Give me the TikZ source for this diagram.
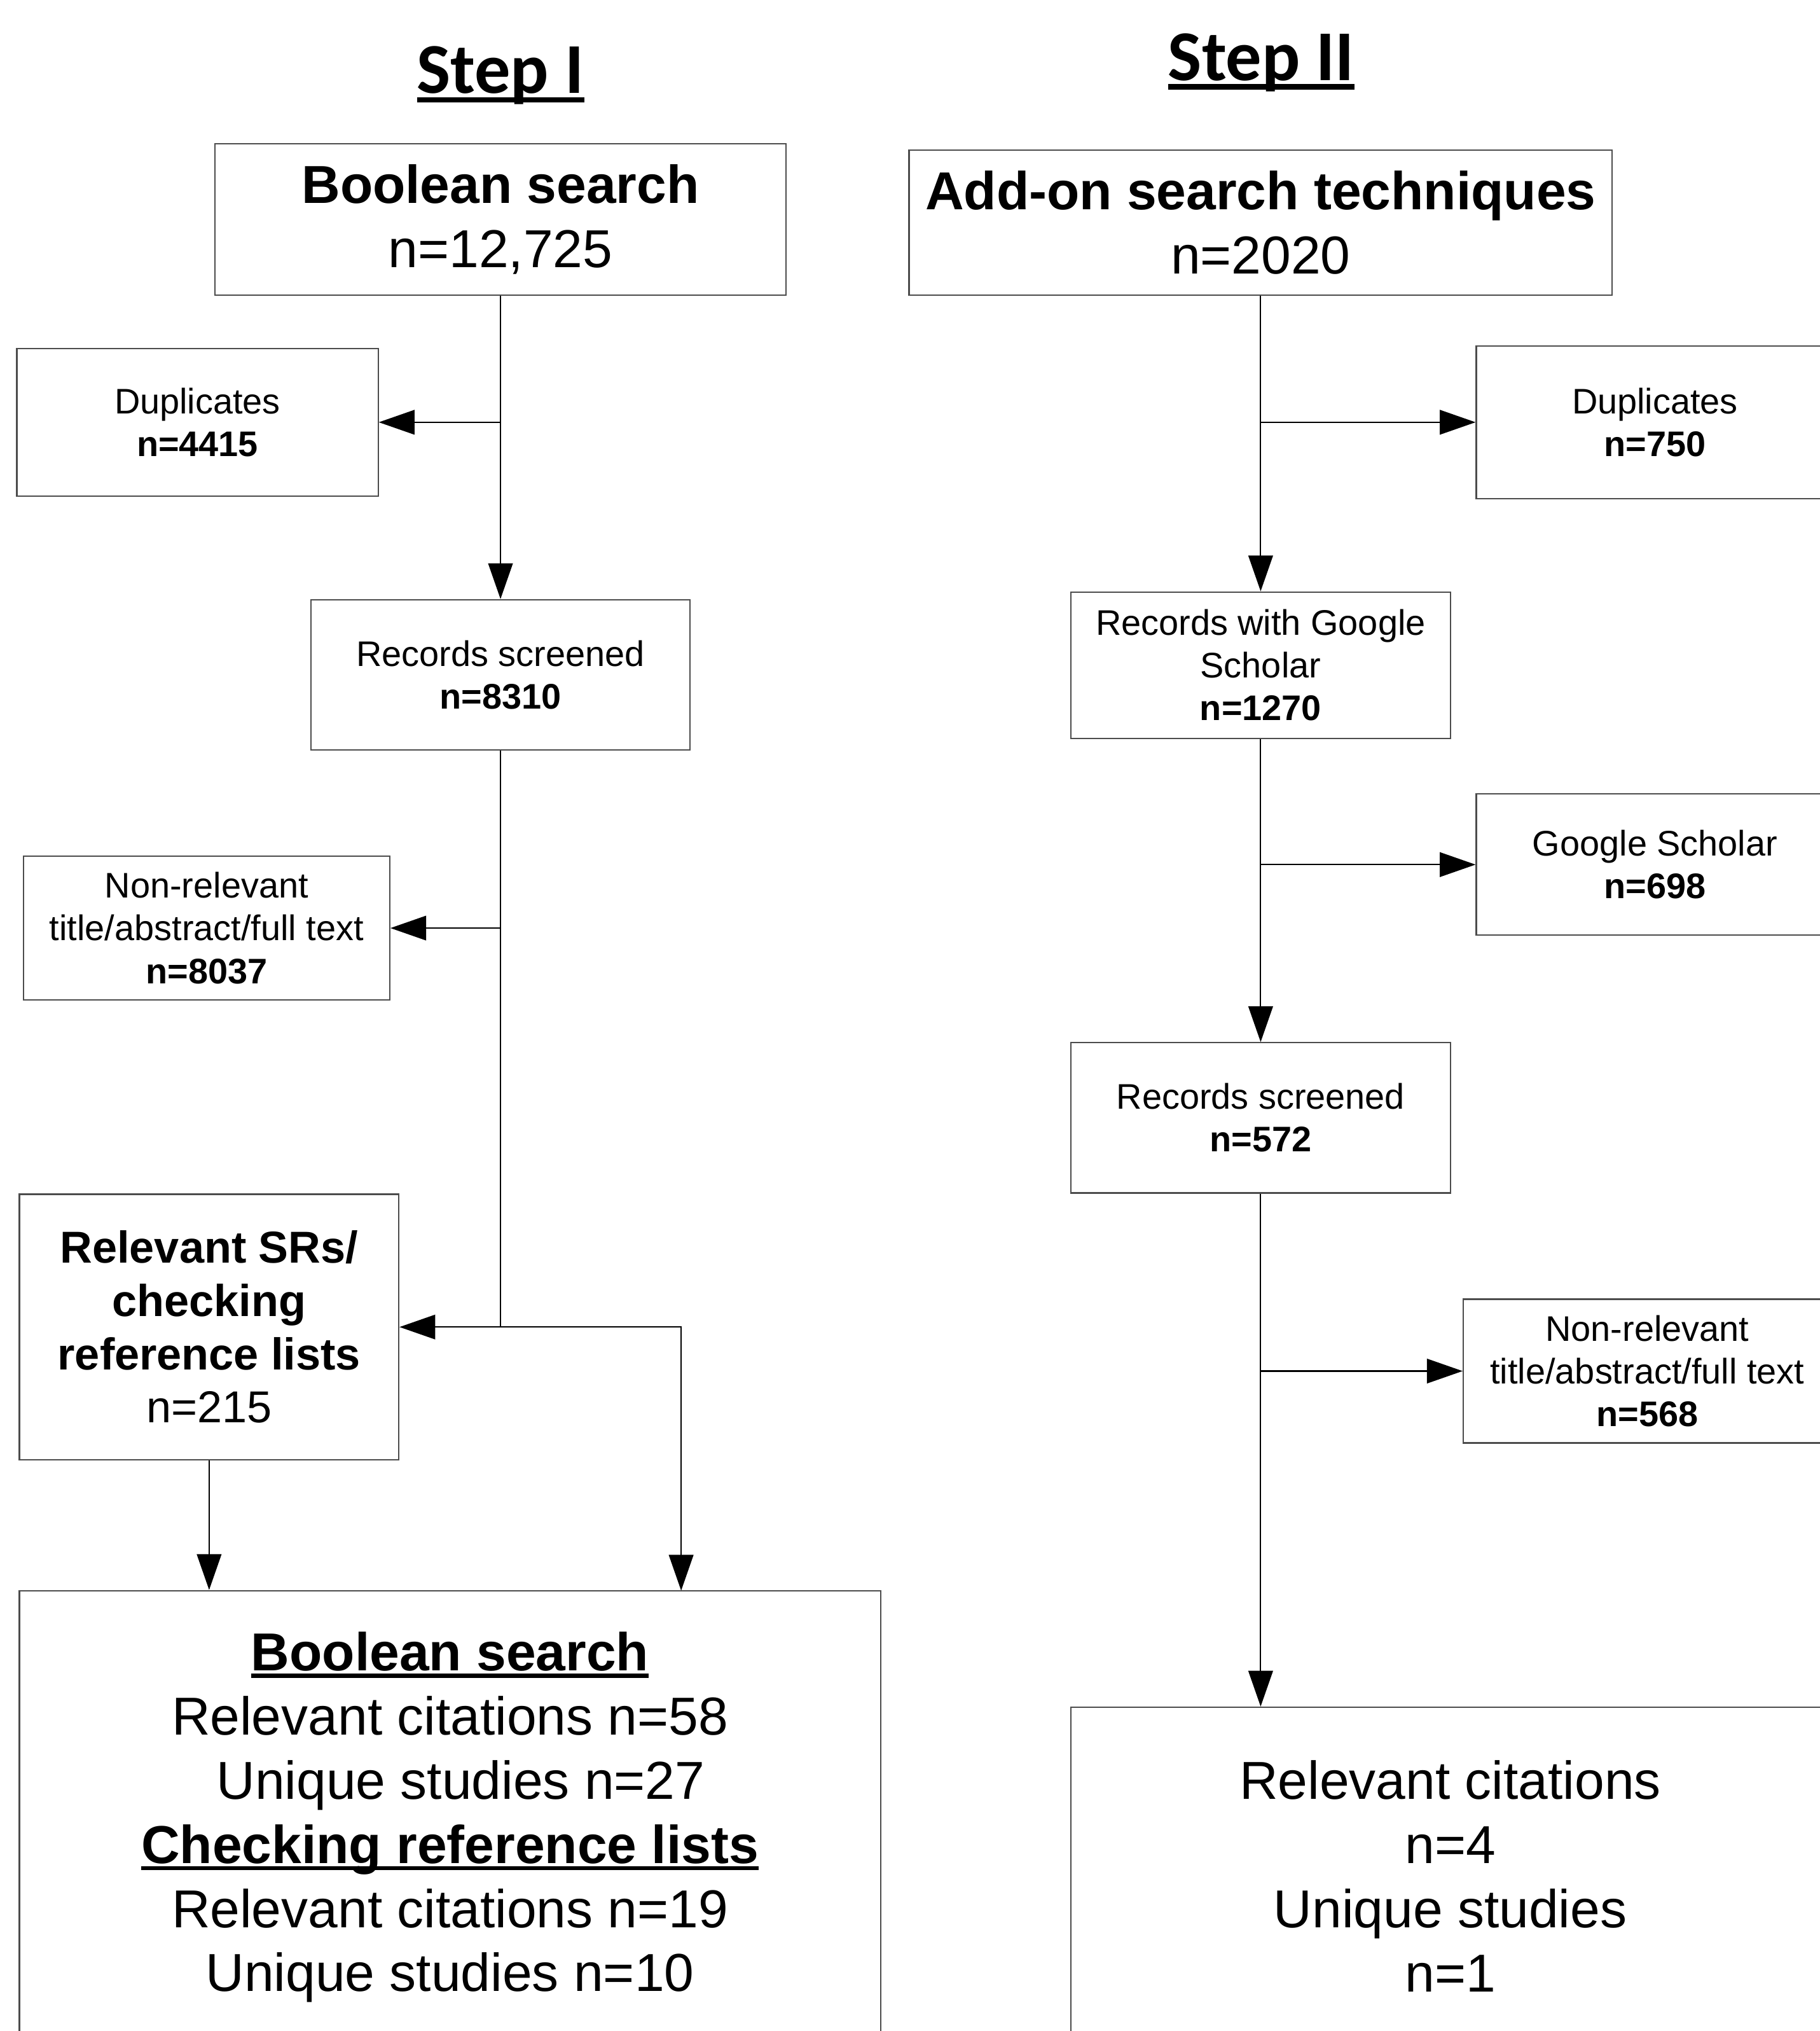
\documentclass[tikz,border=0pt]{standalone}
\usepackage{fontspec}
\setmainfont{Liberation Sans}
\newfontfamily\stepfont{Carlito}
\usetikzlibrary{arrows.meta}
\newcommand\pxu{0.2037mm}
\newsavebox\ulbox
\newcommand\ultext[1]{\sbox\ulbox{#1}\rlap{\usebox\ulbox}\rule[-0.13em]{\wd\ulbox}{0.075em}}
\tikzset{
	box/.style 2 args={draw=black!70,line width=0.6pt,minimum width=#1*\pxu,minimum height=#2*\pxu,align=center,inner sep=0pt},
	small/.style={font=\fontsize{15.9pt}{19.1pt}\selectfont},
	mid/.style={font=\fontsize{20pt}{23.8pt}\selectfont},
	big/.style={font=\fontsize{23.9pt}{28.7pt}\selectfont},
	steptitle/.style={font=\stepfont\bfseries\fontsize{32pt}{38pt}\selectfont,anchor=base,inner sep=0pt},
	flow/.style={->,line width=0.6pt}
}
\begin{document}
\begin{tikzpicture}[x=\pxu,y=-\pxu,>={Triangle[length=16pt,width=11pt]}]
	\useasboundingbox (0,0) rectangle (1405,1568);
	\node[steptitle] (stepI) at (386.5,72) {\ultext{Step I}};
	\node[steptitle] (stepII) at (974,62) {\ultext{Step II}};
	% step I
	\node[box={441}{117},big] (boolA) at (386.5,169.5) {\textbf{Boolean search}\\n=12,725};
	\node[box={279}{114},small] (dupL) at (152.5,326) {Duplicates\\\textbf{n=4415}};
	\node[box={293}{116},small] (scrL) at (386.5,521) {Records screened\\\textbf{n=8310}};
	\node[box={283}{111},small] (nonrelL) at (159.5,716.5) {Non-relevant\\title/abstract/full text\\\textbf{n=8037}};
	\node[box={293}{205},mid] (srs) at (161.5,1024.5) {\textbf{Relevant SRs/}\\\textbf{checking}\\\textbf{reference lists}\\n=215};
	\node[box={665}{350},big] (finL) at (347.5,1403) {\ultext{\textbf{Boolean search}}\\Relevant citations n=58\\\hspace*{0.4em}Unique studies n=27\\\ultext{\textbf{Checking reference lists}}\\Relevant citations n=19\\Unique studies n=10};
	\coordinate (jL) at (scrL.south |- srs.east);
	\coordinate (inL) at (526,1228);
	\draw[flow] (boolA) -- (scrL);
	\draw[flow] (boolA.south |- dupL) -- (dupL.east);
	\draw (scrL) -- (jL);
	\draw[flow] (scrL.south |- nonrelL) -- (nonrelL.east);
	\draw[flow] (jL) -- (srs.east);
	\draw[flow] (jL) -| (inL);
	\draw[flow] (srs) -- (srs.south |- finL.north);
	% step II
	\node[box={543}{112},big] (addon) at (973.5,172) {\textbf{Add-on search techniques}\\n=2020};
	\node[box={276}{118},small] (dupR) at (1278,326) {Duplicates\\\textbf{n=750}};
	\node[box={293}{113},small] (gsR) at (973.5,513.5) {Records with Google\\Scholar\\\textbf{n=1270}};
	\node[box={276}{109},small] (gsx) at (1278,667.5) {Google Scholar\\\textbf{n=698}};
	\node[box={293}{116},small] (scrR) at (973.5,863) {Records screened\\\textbf{n=572}};
	\node[box={284}{111},small] (nonrelR) at (1272,1058.5) {Non-relevant\\title/abstract/full text\\\textbf{n=568}};
	\node[box={586}{261},big] (finR) at (1120,1448.5) {Relevant citations\\n=4\\Unique studies\\n=1};
	\draw[flow] (addon) -- (gsR);
	\draw[flow] (addon.south |- dupR) -- (dupR.west);
	\draw[flow] (gsR) -- (scrR);
	\draw[flow] (gsR.south |- gsx) -- (gsx.west);
	\draw[flow] (scrR) -- (scrR.south |- finR.north);
	\draw[flow] (scrR.south |- nonrelR) -- (nonrelR.west);
\end{tikzpicture}
\end{document}
